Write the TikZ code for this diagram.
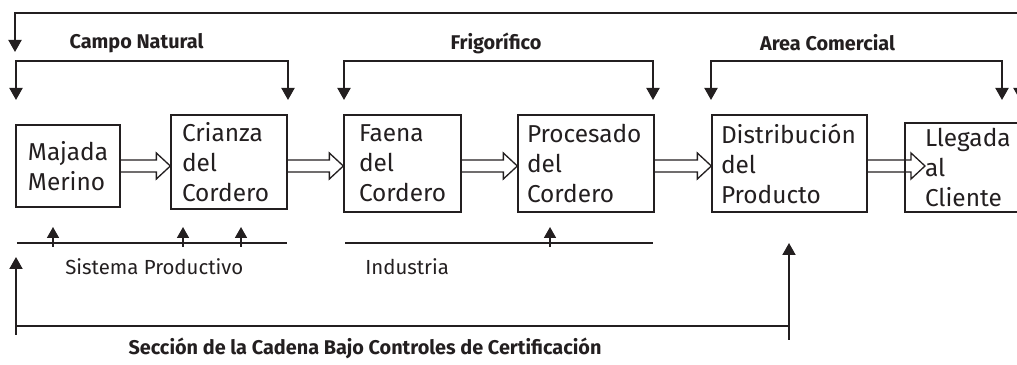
\documentclass[tikz,border=0pt]{standalone}
\usepackage{fontspec}
\setmainfont{Fira Sans}
\usetikzlibrary{arrows.meta,calc}
\definecolor{tinta}{HTML}{231F20}

% hollow block arrow from the east side of node #1 to the tip #2
\newcommand{\flechahueca}[2]{%
  \draw[hueca] ($(#1.east |- 0,3.98)+(0,0.12)$) -- ($(#2 |- 0,3.98)+(-0.28,0.12)$) -- ++(0,0.14)
    -- (#2 |- 0,3.98) -- ++(-0.28,-0.26) -- ++(0,0.14) -- ($(#1.east |- 0,3.98)+(0,-0.12)$);}

\begin{document}
\begin{tikzpicture}[
    etapa/.style={draw=tinta, line width=0.75pt, align=left, inner ysep=0pt, text=tinta,
      font=\fontsize{13.9}{17}\selectfont},
    zona/.style={text=tinta, font=\bfseries\fontsize{11.3}{13}\selectfont},
    rotulo/.style={text=tinta, anchor=west, inner sep=0pt, font=\fontsize{11.6}{14}\selectfont},
    hueca/.style={draw=tinta, line width=0.75pt, line join=miter},
    flecha/.style={draw=tinta, line width=1.1pt, -{Triangle[length=0.24cm, width=0.26cm]}},
    doble/.style={draw=tinta, line width=1.1pt, {Triangle[length=0.24cm, width=0.26cm]}-{Triangle[length=0.24cm, width=0.26cm]}},
    flechita/.style={draw=tinta, line width=1pt, -{Triangle[length=0.22cm, width=0.24cm]}},
    fina/.style={draw=tinta, line width=0.7pt}]
  \useasboundingbox (0,0) rectangle (20.34,7.30);

  % stages of the chain
  \node[etapa, text width=1.60cm, inner xsep=0.24cm, minimum height=1.64cm] (majada) at (1.36,3.98) {Majada\\Merino};
  \node[etapa, text width=1.88cm, inner xsep=0.22cm, minimum height=1.88cm] (crianza) at (4.58,4.06) {Crianza\\del\\Cordero};
  \node[etapa, text width=1.74cm, inner xsep=0.30cm, minimum height=1.94cm] (faena) at (8.05,4.03) {Faena\\del\\Cordero};
  \node[etapa, text width=2.36cm, inner xsep=0.18cm, minimum height=1.94cm] (procesado) at (11.72,4.03) {Procesado\\del\\Cordero};
  \node[etapa, text width=2.74cm, inner xsep=0.18cm, minimum height=1.94cm] (distribucion) at (15.79,4.03) {Distribución\\del\\Producto};
  \node[etapa, text width=1.70cm, inner xsep=0.40cm, minimum height=1.78cm] (llegada) at (19.35,3.95) {Llegada\\al\\Cliente};
  \coordinate (puntacliente) at (18.50,3.98);

  \flechahueca{majada}{crianza.west}
  \flechahueca{crianza}{faena.west}
  \flechahueca{faena}{procesado.west}
  \flechahueca{procesado}{distribucion.west}
  \flechahueca{distribucion}{puntacliente}

  % brackets over the areas
  \coordinate (arribaizq) at (0.30,6.26);
  \coordinate (arribader) at (20.40,5.30);
  \draw[doble] (arribaizq) -- (arribaizq |- 0,7.04) -| (arribader);
  \foreach \izq/\der/\nom/\cx [count=\i] in {0.32/5.76/Campo Natural/2.73, 6.88/13.06/Frigorífico/9.92, 14.22/20.04/Area Comercial/16.55} {
    \node[zona] (zona\i) at (\cx,6.44) {\nom};
    \coordinate (zi\i) at (\izq,5.30);
    \coordinate (zd\i) at (\der,5.30);
    \draw[doble] (zi\i) -- (zi\i |- 0,6.08) -| (zd\i);
  }

  % systems below
  \node[rotulo] (sistema) at (1.30,1.96) {Sistema Productivo};
  \node[rotulo] (industria) at (7.30,1.96) {Industria};
  \draw[fina] (0.34,2.44) -- (5.74,2.44);
  \draw[fina] (6.90,2.44) -- (13.06,2.44);
  \foreach \x/\n in {1.06/1, 3.66/2, 4.82/3, 11.00/4} {
    \coordinate (p\n) at (\x,2.76);
    \draw[flechita] (\x,2.36) -- (p\n);
  }

  % certified section
  \coordinate (certizq) at (0.32,2.16);
  \coordinate (certder) at (15.78,2.44);
  \draw[flecha] (certizq |- 0,0.60) -- (certizq);
  \draw[flecha] (certder |- 0,0.50) -- (certder);
  \draw[draw=tinta, line width=1.1pt] (certizq |- 0,0.78) -- (certder |- 0,0.78);
  \node[zona] (certificacion) at (7.30,0.34) {Sección de la Cadena Bajo Controles de Certificación};
\end{tikzpicture}
\end{document}
